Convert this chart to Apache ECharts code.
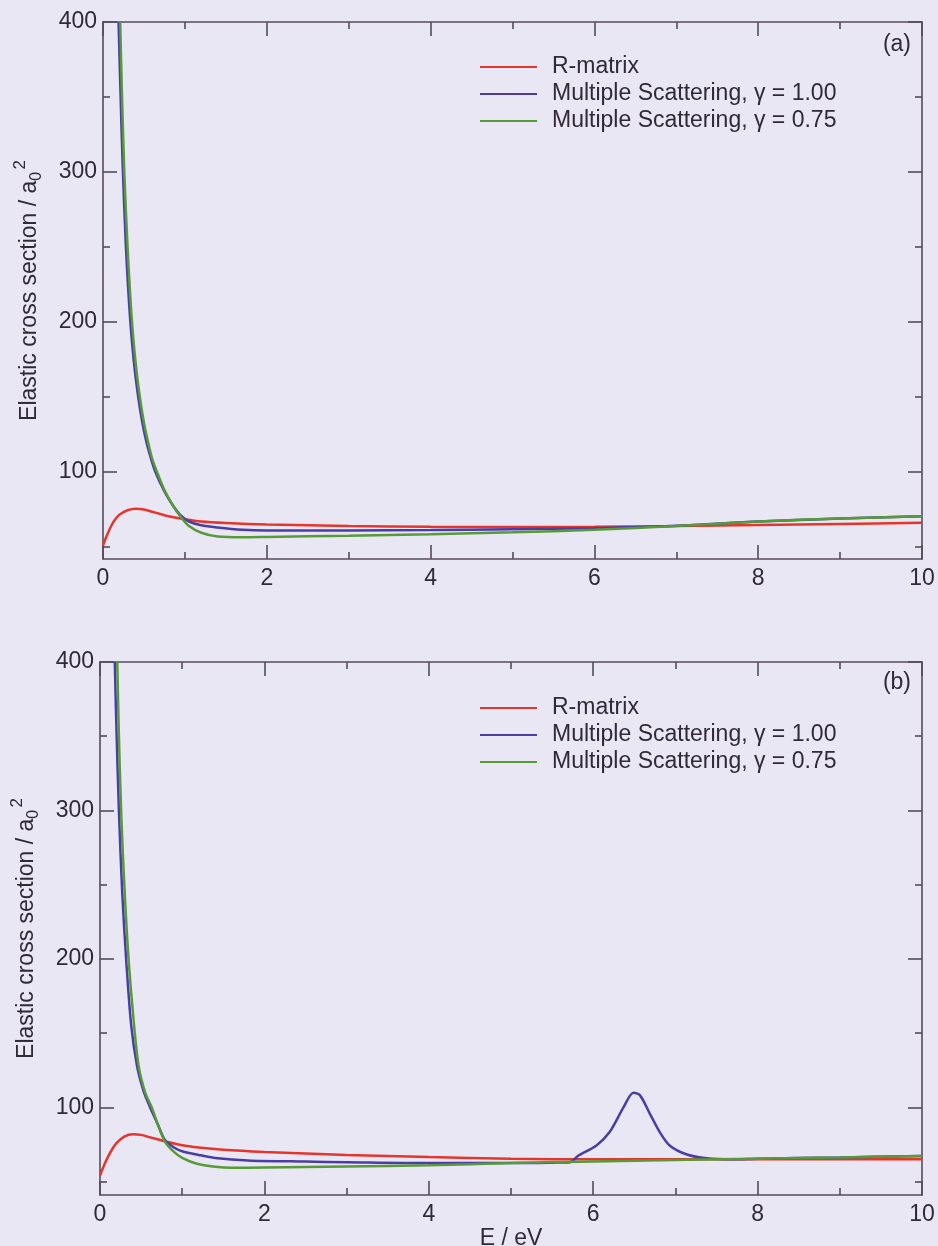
<!DOCTYPE html>
<html><head><meta charset="utf-8">
<script src="https://cdn.jsdelivr.net/npm/echarts@6/dist/echarts.min.js"></script>
<style>html,body{margin:0;padding:0;background:#e9e7f4}#c{width:938px;height:1246px}</style>
</head><body><div id="c"></div>
<script>
// ---- data ----
const SERIES_NAMES = ['R-matrix', 'Multiple Scattering, \u03b3 = 1.00', 'Multiple Scattering, \u03b3 = 0.75'];
const X_TICKS = [0, 2, 4, 6, 8, 10];
const Y_MAJOR = [100, 200, 300, 400];
const Y_MINOR = [50, 150, 250, 350];

// panel (a)
const aRedE = [0, 0.05, 0.1, 0.15, 0.2, 0.3, 0.4, 0.5, 0.6, 0.7, 0.8, 1.0, 1.2, 1.5, 2, 3, 4, 5, 6, 7, 8, 9, 10];
const aRedV = [51, 58, 64, 68.5, 71.5, 74.5, 75.5, 75, 73.5, 72, 70.5, 68.5, 67, 66, 65, 64, 63.5, 63.3, 63.5, 64, 64.7, 65.4, 66.2];
const aBlueE = [0.19, 0.21, 0.24, 0.28, 0.33, 0.38, 0.43, 0.48, 0.53, 0.58, 0.64, 0.75, 0.85, 0.95, 1.05, 1.2, 1.4, 1.7, 2, 3, 4, 5, 6, 7, 8, 9, 10];
const aBlueV = [400, 360, 305, 250, 203, 172, 150, 133, 120, 110, 100, 87, 78, 71, 67, 64.5, 63, 61.5, 61, 61, 61.3, 61.8, 62.5, 64.1, 67, 69, 70.5];
const aGreenE = [0.21, 0.23, 0.26, 0.30, 0.35, 0.40, 0.45, 0.50, 0.55, 0.60, 0.66, 0.75, 0.85, 0.95, 1.05, 1.2, 1.4, 1.7, 2, 3, 4, 5, 6, 7, 8, 9, 10];
const aGreenV = [400, 355, 300, 250, 203, 172, 150, 133, 120, 109, 100, 88, 78, 70, 64, 59.5, 57, 56.5, 56.7, 57.5, 58.5, 59.8, 61.5, 64, 67, 69, 70.5];

// panel (b)
const bRedE = [0, 0.05, 0.1, 0.15, 0.2, 0.3, 0.4, 0.5, 0.6, 0.7, 0.8, 1.0, 1.2, 1.5, 2, 2.5, 3, 4, 5, 6, 7, 8, 9, 10];
const bRedV = [54, 61, 67, 72, 76, 80.5, 82, 81.5, 80, 78.5, 77, 74.5, 73, 71.5, 70, 69, 68, 66.6, 65.5, 65, 65, 65, 65, 65];
const bBlueE = [0.18, 0.20, 0.23, 0.27, 0.32, 0.38, 0.45, 0.53, 0.61, 0.70, 0.79, 0.9, 1.0, 1.2, 1.4, 1.8, 2.5, 3, 4, 5, 5.5, 5.72, 5.82, 6.04, 6.20, 6.37, 6.49, 6.57, 6.69, 6.81, 6.93, 7.14, 7.38, 7.70, 8, 9, 10];
const bBlueV = [400, 355, 300, 245, 198, 155, 128, 111, 100, 89, 78, 73, 70.5, 68, 66, 64.3, 63.5, 63.1, 62.5, 62.5, 62.8, 63.1, 67.6, 74.4, 83.4, 100.2, 109.9, 108.1, 95.7, 83.4, 74.4, 68.3, 65.8, 65.1, 65.5, 66.3, 67.2];
const bGreenE = [0.21, 0.23, 0.26, 0.30, 0.35, 0.41, 0.47, 0.55, 0.63, 0.70, 0.79, 0.9, 1.0, 1.18, 1.4, 1.6, 2, 3, 4, 5, 6, 7, 8, 9, 10];
const bGreenV = [400, 350, 295, 245, 198, 158, 128, 110, 100, 89, 77, 70, 66, 62, 60, 59.3, 59.5, 60.2, 61, 62.5, 63.5, 64.5, 65.5, 66.3, 67.2];

// ---- styles ----
const FONT = '"Liberation Sans", Arial, Helvetica, sans-serif';
const AX = '#554b5b';
const TXT = '#2f2a35';
const COLORS = ['#e6352d', '#4a3ea6', '#579a38'];

function zip(xs, ys) { return xs.map((x, i) => [x, ys[i]]); }

function xAxes(gridIndex, withName) {
  const common = {
    type: 'value', gridIndex, min: 0, max: 10, interval: 2,
    axisLine: { show: true, lineStyle: { color: AX, width: 1.6 } },
    axisTick: { show: true, inside: true, length: 14, lineStyle: { color: AX, width: 1.6 } },
    minorTick: { show: true, splitNumber: 2, length: 7, lineStyle: { color: AX, width: 1.6 } },
    splitLine: { show: false }, minorSplitLine: { show: false }
  };
  return [
    Object.assign({}, common, {
      position: 'bottom',
      axisLabel: { show: true, fontSize: 23, margin: 8, color: TXT, fontFamily: FONT, customValues: X_TICKS },
      name: withName ? 'E / eV' : '', nameLocation: 'middle', nameGap: 30,
      nameTextStyle: { fontSize: 23, color: TXT, fontFamily: FONT }
    }),
    Object.assign({}, common, { position: 'top', axisLabel: { show: false } })
  ];
}

function yAxes(gridIndex, min) {
  const line = { color: AX, width: 1.6 };
  const base = { type: 'value', gridIndex, min, max: 400, splitLine: { show: false } };
  return [
    Object.assign({}, base, {
      position: 'left',
      axisLine: { show: true, lineStyle: line },
      axisTick: { show: true, inside: true, length: 14, customValues: Y_MAJOR, lineStyle: line },
      axisLabel: { show: true, customValues: Y_MAJOR, fontSize: 23, margin: 6, color: TXT, fontFamily: FONT },
      name: '{t|Elastic cross section / a}{sub|0}{sp| }{sup|2}',
      nameLocation: 'middle', nameRotate: 90, nameGap: 47,
      nameTextStyle: {
        fontFamily: FONT, color: TXT, fontSize: 23, lineHeight: 36,
        rich: {
          t: { fontSize: 23, fontFamily: FONT, color: TXT, lineHeight: 36, verticalAlign: 'middle' },
          sub: { fontSize: 16, fontFamily: FONT, color: TXT, lineHeight: 36, verticalAlign: 'bottom', padding: [0, 0, 3, 0] },
          sp: { fontSize: 8, lineHeight: 36 },
          sup: { fontSize: 17, fontFamily: FONT, color: TXT, lineHeight: 36, verticalAlign: 'top' }
        }
      }
    }),
    Object.assign({}, base, {
      position: 'left',
      axisLine: { show: false },
      axisTick: { show: true, inside: true, length: 7, customValues: Y_MINOR, lineStyle: line },
      axisLabel: { show: false }
    }),
    Object.assign({}, base, {
      position: 'right',
      axisLine: { show: true, lineStyle: line },
      axisTick: { show: true, inside: true, length: 14, customValues: Y_MAJOR, lineStyle: line },
      axisLabel: { show: false }
    }),
    Object.assign({}, base, {
      position: 'right',
      axisLine: { show: false },
      axisTick: { show: true, inside: true, length: 7, customValues: Y_MINOR, lineStyle: line },
      axisLabel: { show: false }
    })
  ];
}

function lineSeries(name, data, color, xi, yi, z) {
  return {
    type: 'line', name, data, xAxisIndex: xi, yAxisIndex: yi,
    showSymbol: false, symbol: 'none', smooth: 0.3, clip: true, z,
    lineStyle: { color, width: 2.5 }, itemStyle: { color }, emphasis: { disabled: true }
  };
}

function legend(top) {
  return {
    left: 480, top, padding: 0, orient: 'vertical', icon: 'rect', itemWidth: 57, itemHeight: 2, itemGap: 3,
    selectedMode: false, data: SERIES_NAMES,
    textStyle: { fontSize: 23, color: TXT, fontFamily: FONT, lineHeight: 24, padding: [0, 0, 0, 10] }
  };
}

const chart = echarts.init(document.getElementById('c'), null, { renderer: 'canvas' });
chart.setOption({
  backgroundColor: '#e9e7f4',
  animation: false,
  textStyle: { fontFamily: FONT },
  title: [
    { text: '(a)', right: 27, top: 33, padding: 0, textStyle: { fontSize: 23, fontWeight: 'normal', color: TXT, fontFamily: FONT } },
    { text: '(b)', right: 27, top: 671, padding: 0, textStyle: { fontSize: 23, fontWeight: 'normal', color: TXT, fontFamily: FONT } }
  ],
  legend: [legend(55), legend(696)],
  grid: [
    { left: 103, top: 22, width: 819, height: 537, containLabel: false, outerBoundsMode: 'none' },
    { left: 100, top: 662, width: 822, height: 533, containLabel: false, outerBoundsMode: 'none' }
  ],
  xAxis: [].concat(xAxes(0, false), xAxes(1, true)),
  yAxis: [].concat(yAxes(0, 42), yAxes(1, 41)),
  series: [
    lineSeries(SERIES_NAMES[0], zip(aRedE, aRedV), COLORS[0], 0, 0, 3),
    lineSeries(SERIES_NAMES[1], zip(aBlueE, aBlueV), COLORS[1], 0, 0, 4),
    lineSeries(SERIES_NAMES[2], zip(aGreenE, aGreenV), COLORS[2], 0, 0, 5),
    lineSeries(SERIES_NAMES[0], zip(bRedE, bRedV), COLORS[0], 2, 4, 3),
    lineSeries(SERIES_NAMES[1], zip(bBlueE, bBlueV), COLORS[1], 2, 4, 4),
    lineSeries(SERIES_NAMES[2], zip(bGreenE, bGreenV), COLORS[2], 2, 4, 5)
  ]
});
</script></body></html>
